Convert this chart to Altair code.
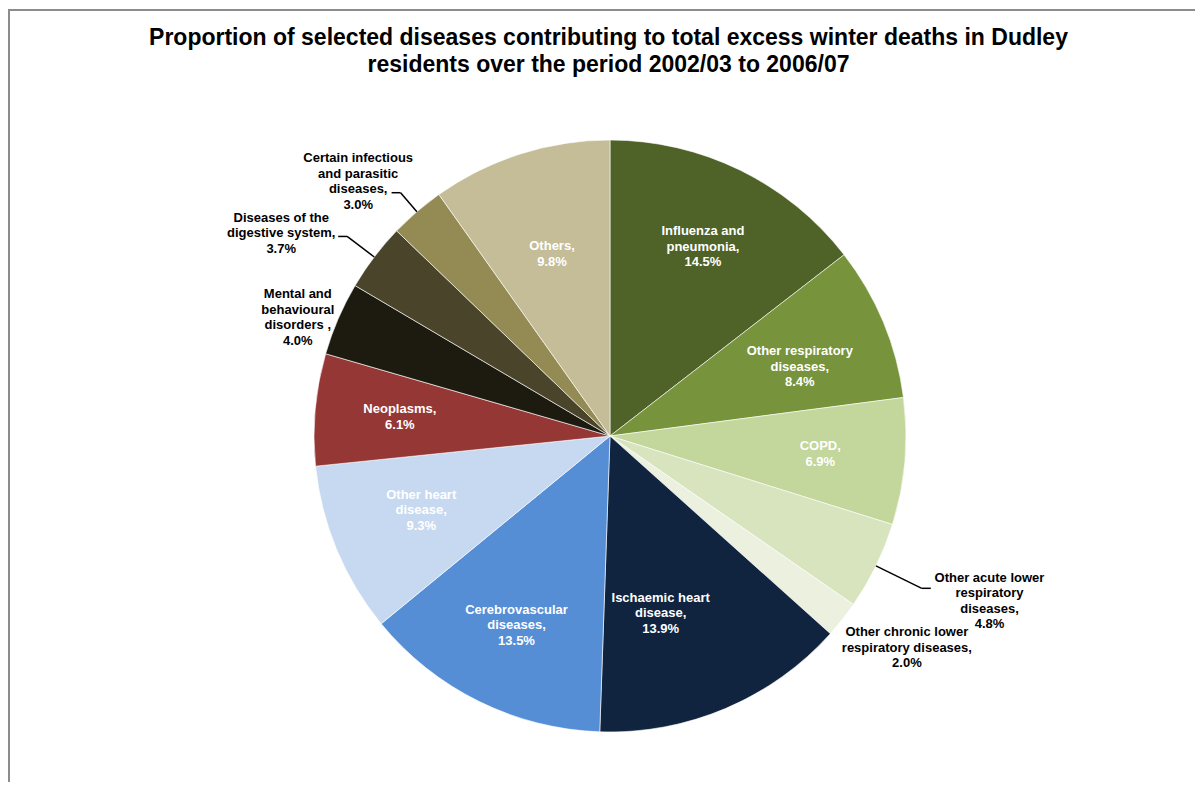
import altair as alt
import pandas as pd

# ---------------- data ----------------
categories = [
    "Influenza and pneumonia",
    "Other respiratory diseases",
    "COPD",
    "Other acute lower respiratory diseases",
    "Other chronic lower respiratory diseases",
    "Ischaemic heart disease",
    "Cerebrovascular diseases",
    "Other heart disease",
    "Neoplasms",
    "Mental and behavioural disorders",
    "Diseases of the digestive system",
    "Certain infectious and parasitic diseases",
    "Others",
]
percentages = [14.5, 8.4, 6.9, 4.8, 2.0, 13.9, 13.5, 9.3, 6.1, 4.0, 3.7, 3.0, 9.8]
label_names = [
    "Influenza and\npneumonia,",
    "Other respiratory\ndiseases,",
    "COPD,",
    "Other acute lower\nrespiratory\ndiseases,",
    "Other chronic lower\nrespiratory diseases,",
    "Ischaemic heart\ndisease,",
    "Cerebrovascular\ndiseases,",
    "Other heart\ndisease,",
    "Neoplasms,",
    "Mental and\nbehavioural\ndisorders ,",
    "Diseases of the\ndigestive system,",
    "Certain infectious\nand parasitic\ndiseases,",
    "Others,",
]

# ---------------- styles / layout ----------------
slice_colors = [
    "#4F6228", "#77933C", "#C3D69B", "#D7E4BD", "#EBF1DE",
    "#10243F", "#558ED5", "#C6D9F1", "#953735", "#1D1B10",
    "#4A452A", "#948A54", "#C4BD97",
]
outside = {
    "Other acute lower respiratory diseases",
    "Other chronic lower respiratory diseases",
    "Mental and behavioural disorders",
    "Diseases of the digestive system",
    "Certain infectious and parasitic diseases",
}
# label placement: (radius, dx, dy)
label_layout = {
    "Influenza and pneumonia": (211, 0, 0),
    "Other respiratory diseases": (211, -5, 12),
    "COPD": (211, 0, 0),
    "Other acute lower respiratory diseases": (340, 74, 16),
    "Other chronic lower respiratory diseases": (340, 30, 1),
    "Ischaemic heart disease": (211, -32, -17),
    "Cerebrovascular diseases": (211, 0, 0),
    "Other heart disease": (211, 6, -7),
    "Neoplasms": (211, 0, 0),
    "Mental and behavioural disorders": (340, 0, 16),
    "Diseases of the digestive system": (340, -58, 3),
    "Certain infectious and parasitic diseases": (340, -30, 3),
    "Others": (211, 6, 19),
}
# leader lines: (end radius, horizontal tick direction)
leader_layout = {
    "Other acute lower respiratory diseases": (347, 1),
    "Diseases of the digestive system": (330, -1),
    "Certain infectious and parasitic diseases": (321, -1),
}

R = 296
CX, CY = 602, 333
LH = 15.5

df = pd.DataFrame({
    "cat": categories,
    "value": percentages,
    "idx": list(range(len(categories))),
    "label": [f"{n}\n{v:.1f}%" for n, v in zip(label_names, percentages)],
})
df["nl"] = [n.count("\n") + 2 for n in label_names]
df["tcolor"] = ["black" if c in outside else "white" for c in categories]
df["lr"] = [label_layout[c][0] for c in categories]
df["ldx"] = [label_layout[c][1] for c in categories]
df["ldy"] = [label_layout[c][2] for c in categories]
df["re"] = [leader_layout.get(c, (0, 0))[0] for c in categories]
df["hd"] = [leader_layout.get(c, (0, 0))[1] for c in categories]

pie = alt.Chart(df).mark_arc(radius=R, stroke="white", strokeWidth=0.6).encode(
    theta=alt.Theta("value:Q", stack=True),
    color=alt.Color("cat:N", scale=alt.Scale(domain=categories, range=slice_colors), legend=None),
    order=alt.Order("idx:Q", sort="ascending"),
    x=alt.value(CX),
    y=alt.value(CY),
)

angled = (
    alt.Chart(df)
    .transform_joinaggregate(total="sum(value)")
    .transform_window(cum="sum(value)", sort=[alt.SortField("idx")], frame=[None, 0])
    .transform_calculate(mid="(datum.cum - datum.value / 2) / datum.total * 2 * PI")
)

labels = angled.transform_calculate(
    lx=f"{CX} + datum.lr * sin(datum.mid) + datum.ldx",
    ly=f"{CY} - datum.lr * cos(datum.mid) + datum.ldy - (datum.nl - 1) * {LH} / 2",
).mark_text(
    lineBreak="\n", font="Liberation Sans", fontWeight="bold", fontSize=13,
    lineHeight=LH, align="center", baseline="middle",
).encode(
    x=alt.X("lx:Q", scale=None, axis=None),
    y=alt.Y("ly:Q", scale=None, axis=None),
    text="label:N",
    color=alt.Color("tcolor:N", scale=None),
)

leaders_base = angled.transform_filter("datum.re > 0").transform_calculate(
    x1=f"{CX} + {R} * sin(datum.mid)",
    y1=f"{CY} - {R} * cos(datum.mid)",
    x2=f"{CX} + datum.re * sin(datum.mid)",
    y2=f"{CY} - datum.re * cos(datum.mid)",
    x3=f"{CX} + datum.re * sin(datum.mid) + 9 * datum.hd",
)
radial = leaders_base.mark_rule(color="black", strokeWidth=1.5).encode(
    x=alt.X("x1:Q", scale=None, axis=None),
    y=alt.Y("y1:Q", scale=None, axis=None),
    x2="x2:Q",
    y2="y2:Q",
)
tick = leaders_base.mark_rule(color="black", strokeWidth=1.5).encode(
    x=alt.X("x2:Q", scale=None, axis=None),
    y=alt.Y("y2:Q", scale=None, axis=None),
    x2="x3:Q",
)

border_left = alt.Chart(df.head(1)).mark_rule(color="#8c8c8c", strokeWidth=2).encode(
    x=alt.value(1), y=alt.value(-93), y2=alt.value(700)
)
border_top = alt.Chart(df.head(1)).mark_rule(color="#8c8c8c", strokeWidth=2).encode(
    x=alt.value(0), x2=alt.value(1200), y=alt.value(-93)
)

chart = alt.layer(border_left, border_top, pie, radial, tick, labels).properties(
    width=1187,
    height=679,
    autosize=alt.AutoSizeParams(type="none"),
    padding={"left": 0, "top": 95, "right": 0, "bottom": 0},
    title=alt.TitleParams(
        text=[
            "Proportion of selected diseases contributing to total excess winter deaths in Dudley",
            "residents over the period 2002/03 to 2006/07",
        ],
        anchor="middle",
        font="Liberation Sans",
        fontSize=23,
        fontWeight="bold",
        color="black",
        lineHeight=27,
        offset=-68,
        dx=7,
    ),
).configure(background="white", view=alt.ViewConfig(stroke=None))

chart.save("out.html", embed_options={"renderer": "svg", "actions": False})
